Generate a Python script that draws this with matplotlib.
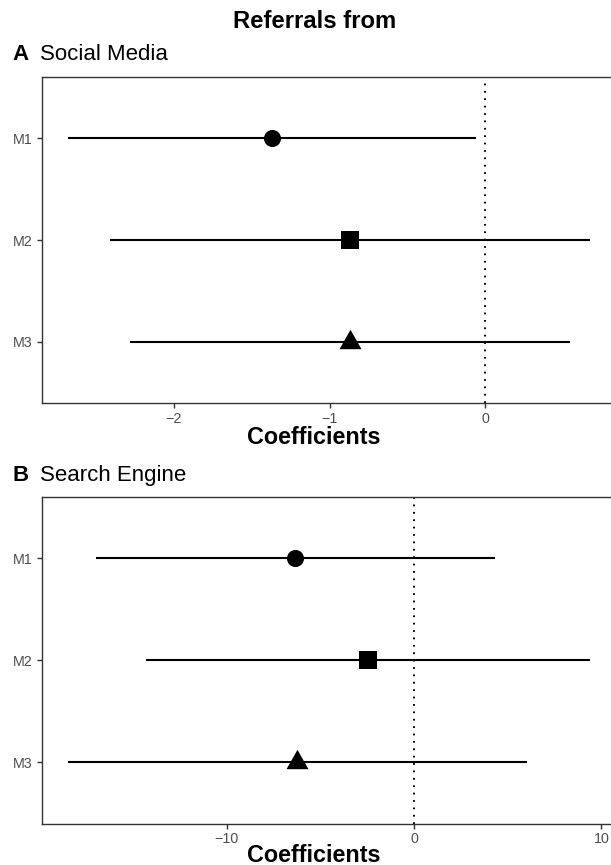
import matplotlib
matplotlib.use("Agg")
import matplotlib.pyplot as plt
from matplotlib.path import Path
import numpy as np

plt.rcParams['font.family'] = ['Liberation Sans', 'DejaVu Sans']

models = ['M1', 'M2', 'M3']
social_est = [-1.37, -0.87, -0.87]
social_low = [-2.68, -2.41, -2.28]
social_high = [-0.06, 0.67, 0.545]
search_est = [-6.35, -2.47, -6.24]
search_low = [-16.96, -14.31, -18.49]
search_high = [4.32, 9.39, 6.03]
social_ticks = [-2, -1, 0]
search_ticks = [-10, 0, 10]

W, H = 611, 865
fig = plt.figure(figsize=(W / 100, H / 100), dpi=100)

tri = Path([(0, 1), (-0.866, -0.528), (0.866, -0.528), (0, 1)],
           [Path.MOVETO, Path.LINETO, Path.LINETO, Path.CLOSEPOLY])
markers = ['o', 's', tri]
msizes = [12.3, 12.3, 18.3]


def px_axes(left, top, right, bottom):
    return fig.add_axes([left / W, (H - bottom) / H, (right - left) / W, (bottom - top) / H])


def panel(ax, est, low, high, ticks, label_y):
    y = np.arange(1, len(models) + 1)
    ax.hlines(y, low, high, color='black', lw=1.5, zorder=2)
    for i in range(len(models)):
        ax.plot(est[i], y[i], marker=markers[i], ms=msizes[i], color='black',
                mec='black', mew=0, ls='none', zorder=3)
    ax.axvline(0, color='black', lw=1.4, ls=(0, (0.9, 2.9)), zorder=1)
    lo, hi = min(low), max(high)
    pad = 0.05 * (hi - lo)
    ax.set_xlim(lo - pad, hi + pad)
    ax.set_ylim(3.6, 0.4)
    ax.set_yticks(y)
    ax.set_yticklabels(models)
    ax.set_xticks(ticks)
    ax.tick_params(axis='both', colors='#333333', labelcolor='#4D4D4D',
                   labelsize=10.3, length=3.8, width=1.0, pad=2.5)
    for s in ax.spines.values():
        s.set_color('#333333')
        s.set_linewidth(1.0)
    fig.text(314 / W, 1 - label_y / H, 'Coefficients', ha='center', va='center',
             fontsize=16.8, fontweight='bold')


axA = px_axes(41.7, 77, 616, 403)
panel(axA, social_est, social_low, social_high, social_ticks, 437)
axB = px_axes(41.7, 497, 616, 823.5)
panel(axB, search_est, search_low, search_high, search_ticks, 855)

fig.text(314.5 / W, 1 - 22 / H, 'Referrals from', ha='center', va='center',
         fontsize=17.2, fontweight='bold')
fig.text(12 / W, 1 - 55 / H, 'A', ha='left', va='center', fontsize=16, fontweight='bold')
fig.text(40 / W, 1 - 55 / H, 'Social Media', ha='left', va='center', fontsize=16)
fig.text(12 / W, 1 - 476 / H, 'B', ha='left', va='center', fontsize=16, fontweight='bold')
fig.text(40 / W, 1 - 476 / H, 'Search Engine', ha='left', va='center', fontsize=16)

fig.savefig('out.png', dpi=100)
